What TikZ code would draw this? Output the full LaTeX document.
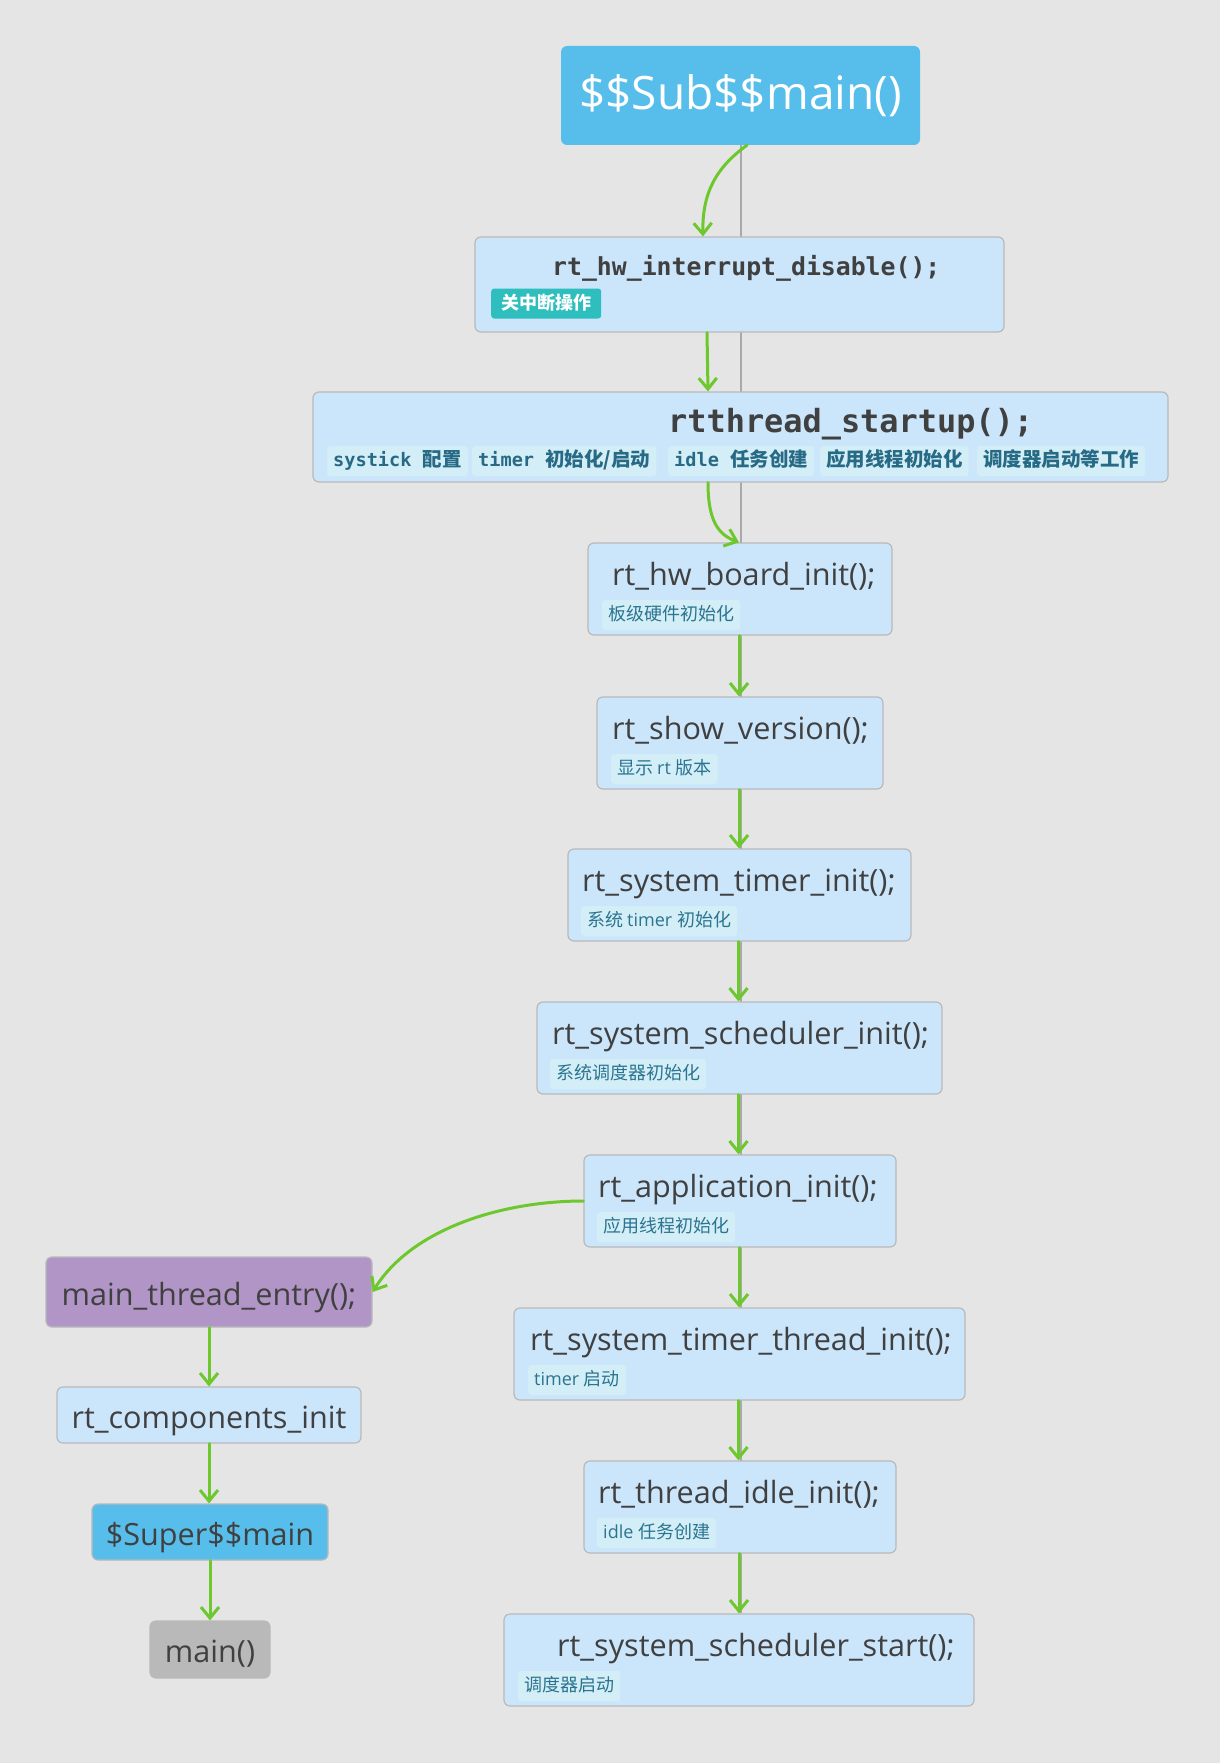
\documentclass[tikz,border=0pt]{standalone}
\usepackage{fontspec}
\setmainfont{Open Sans}
\newfontfamily\cjk{Noto Sans CJK SC}
\newfontfamily\monofam{DejaVu Sans Mono}
\usetikzlibrary{arrows.meta,backgrounds}
\newcommand\zh[1]{{\cjk #1}}
\newcommand\zhb[1]{{\cjk\fontsize{19.5}{20}\selectfont #1}}

\definecolor{bgc}{HTML}{E5E5E5}
\definecolor{skyblue}{HTML}{57BEEC}
\definecolor{boxfill}{HTML}{CBE5FB}
\definecolor{boxline}{HTML}{B9B9B9}
\definecolor{tagfill}{HTML}{D4EEF7}
\definecolor{tagtext}{HTML}{2B7490}
\definecolor{tagdark}{HTML}{276A85}
\definecolor{teal}{HTML}{2EBEBE}
\definecolor{ink}{HTML}{404040}
\definecolor{lilac}{HTML}{B195C6}
\definecolor{greybox}{HTML}{B9B9B9}
\definecolor{flowgreen}{HTML}{6DC82D}
\definecolor{spinegrey}{HTML}{A9A9A9}

\tikzset{
  box/.style={draw=boxline, line width=1.2pt, rounded corners=6pt, fill=boxfill,
    minimum height=92pt, inner sep=0pt},
  solid box/.style={draw=boxline, line width=1.2pt, rounded corners=6pt,
    inner sep=0pt, text=ink, text height=27pt, text depth=1pt,
    font=\fontsize{30.6}{36}\selectfont},
  title/.style={anchor=base west, inner sep=0pt, text=ink,
    font=\fontsize{30.6}{36}\selectfont},
  monotitle/.style={anchor=base west, inner sep=0pt, text=ink},
  tag/.style={anchor=west, fill=tagfill, rounded corners=3pt, inner xsep=6pt,
    inner ysep=0pt, minimum height=30pt, text height=14pt, text depth=3pt,
    text=tagtext, font=\cjk\fontsize{18}{20}\selectfont},
  monotag/.style={tag, text=tagdark, font=\monofam\bfseries\fontsize{18.6}{20}\selectfont},
  flow/.style={draw=flowgreen, line width=3pt, line cap=round,
    -{Straight Barb[length=11pt,width=18pt]}},
  spine/.style={draw=spinegrey, line width=2.5pt}
}

\begin{document}
\begin{tikzpicture}[x=1pt,y=1pt]

% ---- top entry -------------------------------------------------------
\node[draw=none, fill=skyblue, rounded corners=6pt, minimum width=359pt,
  minimum height=99pt, inner sep=0pt, text=white,
  font=\fontsize{46}{50}\selectfont] (sub) at (740.5,-95.5) {\$\$Sub\$\$main()};

% interrupt disable
\node[box, minimum width=529pt, minimum height=95pt] (intr) at (739.5,-284.5) {};
\node[monotitle, font=\monofam\bfseries\fontsize{24.8}{28}\selectfont]
  (intr-t) at (552,-275) {rt\_hw\_interrupt\_disable();};
\node[tag, fill=teal, text=white, inner xsep=10pt, font=\cjk\bfseries\fontsize{18}{20}\selectfont]
  (intr-g) at (491,-303.5) {关中断操作};

% rtthread_startup
\node[box, minimum width=855pt, minimum height=90pt] (startup) at (740.5,-437) {};
\node[monotitle, font=\monofam\bfseries\fontsize{31.9}{36}\selectfont]
  (startup-t) at (668,-432) {rtthread\_startup();};
\node[monotag] (st-a) at (327,-461) {systick \zhb{配置}};
\node[monotag] (st-b) at (472,-461) {timer \zhb{初始化/启动}};
\node[monotag] (st-c) at (668,-461) {idle \zhb{任务创建}};
\node[monotag] (st-d) at (820,-461) {\zhb{应用线程初始化}};
\node[monotag] (st-e) at (977,-461) {\zhb{调度器启动等工作}};

% ---- main chain --------------------------------------------------------
\node[box, minimum width=304pt] (board) at (740,-589) {};
\node[title] (board-t) at (612,-585) {rt\_hw\_board\_init();};
\node[tag] (board-g) at (602,-615) {板级硬件初始化};

\node[box, minimum width=286pt] (version) at (740,-743) {};
\node[title] (version-t) at (612,-739) {rt\_show\_version();};
\node[tag] (version-g) at (611,-769) {显示 \fontspec{Open Sans}rt \cjk 版本};

\node[box, minimum width=343pt] (tinit) at (739.5,-895) {};
\node[title] (tinit-t) at (582,-891) {rt\_system\_timer\_init();};
\node[tag] (tinit-g) at (581,-921) {系统 \fontspec{Open Sans}timer \cjk 初始化};

\node[box, minimum width=405pt] (sinit) at (739.5,-1048) {};
\node[title] (sinit-t) at (552,-1044) {rt\_system\_scheduler\_init();};
\node[tag] (sinit-g) at (550,-1074) {系统调度器初始化};

\node[box, minimum width=312pt] (app) at (740,-1201) {};
\node[title] (app-t) at (598,-1197) {rt\_application\_init();};
\node[tag] (app-g) at (597,-1227) {应用线程初始化};

\node[box, minimum width=451pt] (tthread) at (739.5,-1354) {};
\node[title] (tthread-t) at (530,-1350) {rt\_system\_timer\_thread\_init();};
\node[tag] (tthread-g) at (528,-1380) {\fontspec{Open Sans}timer \cjk 启动};

\node[box, minimum width=312pt] (idle) at (740,-1507) {};
\node[title] (idle-t) at (598,-1503) {rt\_thread\_idle\_init();};
\node[tag] (idle-g) at (597,-1533) {\fontspec{Open Sans}idle \cjk 任务创建};

\node[box, minimum width=470pt] (sstart) at (739,-1660) {};
\node[title] (sstart-t) at (557,-1656) {rt\_system\_scheduler\_start();};
\node[tag] (sstart-g) at (518,-1686) {调度器启动};

% ---- main thread branch -----------------------------------------------
\node[solid box, fill=lilac, minimum width=326pt, minimum height=70pt]
  (mte) at (209,-1292) {main\_thread\_entry();};
\node[solid box, fill=boxfill, minimum width=304pt, minimum height=56pt]
  (comp) at (209,-1415) {rt\_components\_init};
\node[solid box, fill=skyblue, minimum width=236pt, minimum height=56pt]
  (super) at (210,-1532) {\$Super\$\$main};
\node[solid box, fill=greybox, minimum width=120pt, minimum height=57pt]
  (mainf) at (210,-1649.5) {main()};

% ---- connectors --------------------------------------------------------
\draw[flow] ([xshift=6.5pt]sub.south) .. controls +(-32,-23) and +(-1,42) .. ([xshift=-36.5pt]intr.north);
\draw[flow] ([xshift=-32.5pt]intr.south) -- ([xshift=-32.5pt]startup.north);
\draw[flow] ([xshift=-32.5pt]startup.south) .. controls +(0,-38) and +(-21,8) .. ([xshift=-1pt]board.north);
\foreach \a/\b in {board/version, version/tinit, tinit/sinit, sinit/app,
                   app/tthread, tthread/idle, idle/sstart}
  \draw[flow] ([xshift=-1pt]\a.south) -- ([xshift=-1pt]\a.south |- \b.north);
\draw[flow] (app.west) .. controls +(-84,0) and +(38,62) .. (mte.east);
\draw[flow] (mte.south) -- (mte.south |- comp.north);
\draw[flow] (comp.south) -- (comp.south |- super.north);
\draw[flow] (super.south) -- (super.south |- mainf.north);

% ---- backdrop and grey spine -------------------------------------------
\begin{pgfonlayer}{background}
  \fill[bgc] (0,0) rectangle (1220,-1763);
  \useasboundingbox (0,0) rectangle (1220,-1763);
  \draw[spine] ([xshift=0.5pt]sub.south) -- ([xshift=0.5pt]sub.south |- sstart.north);
\end{pgfonlayer}
\end{tikzpicture}
\end{document}
